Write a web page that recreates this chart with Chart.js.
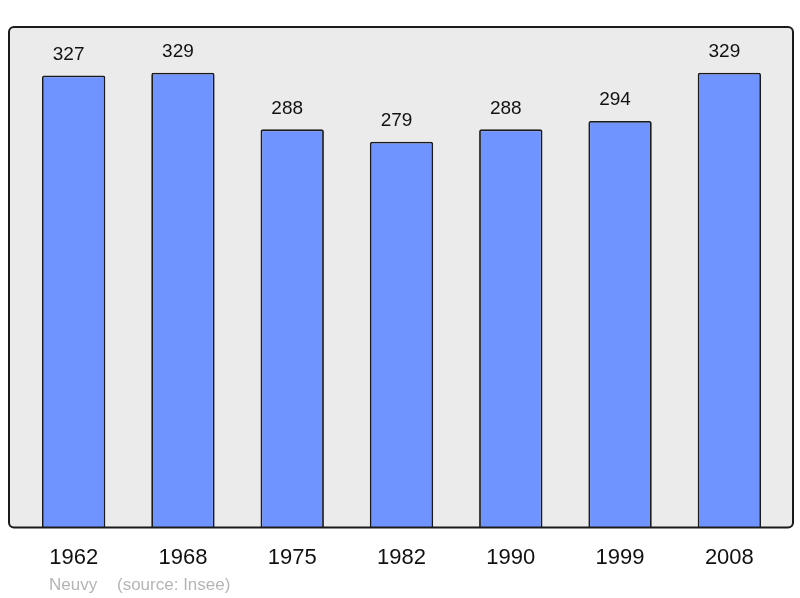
<!DOCTYPE html>
<html>
<head>
<meta charset="utf-8">
<script src="https://cdn.jsdelivr.net/npm/chart.js@4/dist/chart.umd.min.js"></script>
<style>
  html, body { margin: 0; padding: 0; background: #fff; }
  #wrap { width: 800px; height: 598px; }
</style>
</head>
<body>
<div id="wrap"><canvas id="popChart"></canvas></div>
<script>
var years = ["1962", "1968", "1975", "1982", "1990", "1999", "2008"];
var population = [327, 329, 288, 279, 288, 294, 329];
var townName = "Neuvy";
var sourceText = "(source: Insee)";

// frame behind the bars, a bit wider than the category area
var framePlugin = {
  id: 'frame',
  beforeDatasetsDraw: function(chart){
    var ctx = chart.ctx, a = chart.chartArea;
    var x = a.left - 10, y = a.top, w = a.right - a.left + 19, h = a.bottom - a.top;
    ctx.save();
    ctx.beginPath();
    ctx.roundRect(x, y, w, h, 5);
    ctx.fillStyle = '#ebebeb';
    ctx.fill();
    ctx.restore();
  },
  afterDatasetsDraw: function(chart){
    var ctx = chart.ctx, a = chart.chartArea;
    var x = a.left - 10, y = a.top, w = a.right - a.left + 19, h = a.bottom - a.top;
    ctx.save();
    ctx.beginPath();
    ctx.roundRect(x, y, w, h, 5);
    ctx.lineWidth = 2;
    ctx.strokeStyle = '#1a1a1a';
    ctx.stroke();

    // values over the bars (sit a little left of centre in the original)
    var meta = chart.getDatasetMeta(0);
    ctx.font = '19px "Liberation Sans", Arial, sans-serif';
    ctx.fillStyle = '#111';
    ctx.textAlign = 'center';
    ctx.textBaseline = 'middle';
    meta.data.forEach(function(bar, i){
      ctx.fillText(String(population[i]), bar.x - 5, bar.y - 21);
    });

    // footer
    ctx.font = '17px "Liberation Sans", Arial, sans-serif';
    ctx.fillStyle = '#b5b5b5';
    ctx.textAlign = 'left';
    ctx.fillText(townName, 49, 585);
    ctx.fillText(sourceText, 117, 585);
    ctx.restore();
  }
};

new Chart(document.getElementById('popChart'), {
  type: 'bar',
  data: {
    labels: years,
    datasets: [{
      data: population,
      backgroundColor: '#7094ff',
      borderColor: '#1a1a1a',
      borderWidth: 1.8,
      borderRadius: 2,
      borderSkipped: 'bottom',
      barPercentage: 0.58,
      categoryPercentage: 1
    }]
  },
  options: {
    responsive: true,
    maintainAspectRatio: false,
    animation: false,
    layout: { padding: { left: 19, right: 16, top: 27, bottom: 10 } },
    plugins: { legend: { display: false }, tooltip: { enabled: false } },
    scales: {
      x: {
        grid: { display: false, drawTicks: false },
        border: { display: false },
        ticks: {
          color: '#111',
          padding: 17,
          font: { family: '"Liberation Sans", Arial, sans-serif', size: 22 }
        }
      },
      y: {
        display: false,
        min: 0,
        max: 362
      }
    }
  },
  plugins: [framePlugin]
});
</script>
</body>
</html>
